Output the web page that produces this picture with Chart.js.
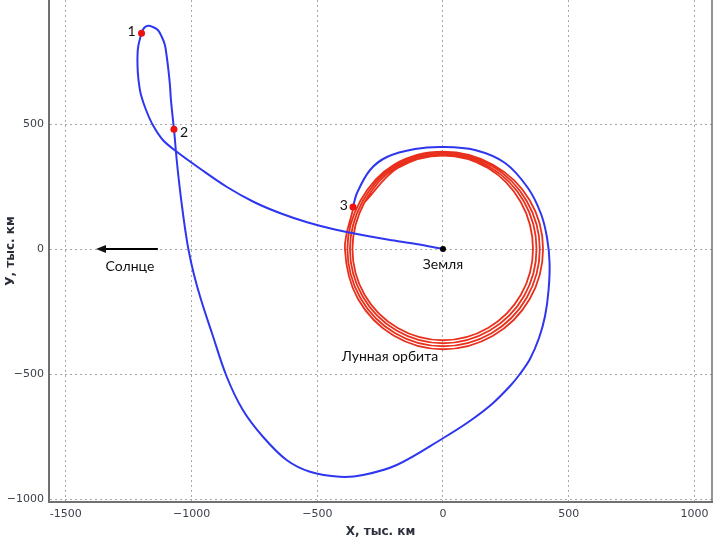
<!DOCTYPE html>
<html>
<head>
<meta charset="utf-8">
<script src="https://cdn.jsdelivr.net/npm/chart.js@4.4.1/dist/chart.umd.min.js"></script>
<style>
  body { margin: 0; background: #fff; }
  #wrap { width: 720px; height: 539px; }
</style>
</head>
<body>
<div id="wrap"><canvas id="mycanvas" width="720" height="539"></canvas></div>
<script>
// trajectory of the spacecraft, thousand km (Earth at 0,0)
var trajX = [0, -107, -215, -322, -430, -537, -644, -752, -859, -967, -1060,
  -1114, -1154, -1181, -1201, -1211, -1215, -1213, -1199, -1189, -1172, -1154, -1134, -1118,
  -1106, -1098, -1092, -1086, -1082, -1076, -1070, -1066, -1062, -1055, -1046, -1036, -1025,
  -1012, -990, -962, -919, -860, -796, -716, -622, -529, -410, -318, -184, 0,
  107, 195, 267, 306, 346, 382, 406, 420, 424, 414, 390, 338, 247, 127, 0, -111, -223, -290, -342, -358];
var trajY = [0, 20, 37, 56, 78, 106, 142, 188, 248, 322, 390,
  436, 496, 556, 616, 676, 736, 804, 863, 884, 893, 888, 876, 848,
  816, 764, 716, 656, 596, 536, 479, 436, 388, 316, 236, 156, 76,
  -4, -104, -204, -336, -511, -644, -751, -844, -891, -911, -904, -864, -757,
  -688, -620, -548, -500, -440, -356, -268, -164, -56, 44, 140, 244, 344, 396, 408, 400, 368, 316, 224, 168];

// lunar orbit, several turns
var moonX = [-356, -390, -338, -195, 0, 199, 345, 398, 345, 199, 0, -195,
  -329, -380, -329, -190, 0, 193, 333, 385, 333, 193, 0, -190,
  -320, -370, -320, -185, 0, 186, 322, 372, 322, 186, 0, -185,
  -312, -360, -312, -180, 0, 179, 310, 358, 310, 179, 0, -180, -312];
var moonY = [167, 0, -200, -347, -401, -347, -200, 0, 195, 337, 389, 337,
  192, 0, -195, -337, -389, -337, -195, 0, 192, 333, 384, 333,
  190, 0, -189, -326, -377, -326, -189, 0, 190, 328, 379, 328,
  187, 0, -183, -316, -365, -316, -183, 0, 187, 324, 374, 324, 187];

// marked points 1, 2, 3
var markX = [-1199, -1070, -358];
var markY = [863, 479, 168];
var markNames = ['1', '2', '3'];

var xTicks = [-1500, -1000, -500, 0, 500, 1000];
var xTickLabels = ['-1500', '\u22121000', '\u2212500', '0', '500', '1000'];
var yTicks = [-1000, -500, 0, 500];
var yTickLabels = ['\u22121000', '\u2212500', '0', '500'];

function toPoints(xs, ys) {
  var pts = [];
  for (var i in xs) pts.push({x: xs[i], y: ys[i]});
  return pts;
}

var textFont = '14px Lato';

var notesPlugin = {
  id: 'notes',
  afterDatasetsDraw: function(chart) {
    var ctx = chart.ctx;
    var xs = chart.scales.x, ys = chart.scales.y;
    var a = chart.chartArea;
    ctx.save();
    // right frame line
    ctx.strokeStyle = '#707070';
    ctx.lineWidth = 1.5;
    ctx.beginPath();
    ctx.moveTo(a.right, a.top);
    ctx.lineTo(a.right, a.bottom);
    ctx.stroke();

    ctx.fillStyle = '#111';
    ctx.font = textFont;
    ctx.textBaseline = 'middle';
    // point numbers
    var offs = [[-6, -2, 'right'], [6, 3, 'left'], [-5, -2, 'right']];
    for (var i in markNames) {
      ctx.textAlign = offs[i][2];
      ctx.fillText(markNames[i], xs.getPixelForValue(markX[i]) + offs[i][0],
        ys.getPixelForValue(markY[i]) + offs[i][1]);
    }
    ctx.textAlign = 'center';
    ctx.fillText('Земля', xs.getPixelForValue(0), ys.getPixelForValue(0) + 15);
    ctx.fillText('Солнце', xs.getPixelForValue(-1245), ys.getPixelForValue(-68));
    ctx.fillText('Лунная орбита', xs.getPixelForValue(-211), ys.getPixelForValue(-428));

    // arrow towards the Sun
    var x0 = xs.getPixelForValue(-1134), x1 = xs.getPixelForValue(-1380), y0 = ys.getPixelForValue(0);
    ctx.strokeStyle = '#000';
    ctx.lineWidth = 2;
    ctx.beginPath();
    ctx.moveTo(x0, y0);
    ctx.lineTo(x1 + 6, y0);
    ctx.stroke();
    ctx.beginPath();
    ctx.moveTo(x1, y0);
    ctx.lineTo(x1 + 10, y0 - 4);
    ctx.lineTo(x1 + 10, y0 + 4);
    ctx.closePath();
    ctx.fill();
    ctx.restore();
  }
};

var ctx = document.getElementById('mycanvas');

var chart = new Chart(ctx, {
  type: 'scatter',
  data: {
    datasets: [
      {
        label: 'Лунная орбита',
        data: toPoints(moonX, moonY),
        showLine: true,
        borderColor: '#e8301c',
        borderWidth: 1.8,
        pointRadius: 0,
        tension: 0.35,
        order: 3
      },
      {
        label: 'Траектория',
        data: toPoints(trajX, trajY),
        showLine: true,
        borderColor: '#2e36ee',
        borderWidth: 2,
        pointRadius: 0,
        tension: 0.35,
        order: 2
      },
      {
        label: 'Точки',
        data: toPoints(markX, markY),
        pointRadius: 3.5,
        pointBackgroundColor: '#ee1111',
        pointBorderWidth: 0,
        order: 0
      },
      {
        label: 'Земля',
        data: [{x: 0, y: 0}],
        pointRadius: 3,
        pointBackgroundColor: '#000',
        pointBorderWidth: 0,
        order: 0
      }
    ]
  },
  options: {
    responsive: false,
    animation: false,
    layout: { autoPadding: false, padding: { left: 0, right: 8, top: 0, bottom: 0 } },
    plugins: { legend: { display: false }, tooltip: { enabled: false } },
    scales: {
      x: {
        type: 'linear',
        min: -1567,
        max: 1070,
        afterBuildTicks: function(scale) {
          scale.ticks = xTicks.map(function(v) { return {value: v}; });
        },
        afterFit: function(scale) {
          scale.height = 37;
          scale.paddingLeft = 0;
          scale.paddingRight = 0;
        },
        ticks: {
          padding: 6,
          color: '#3a3f4a',
          font: { family: 'DejaVu Sans', size: 11 },
          maxRotation: 0,
          callback: function(v) { return xTickLabels[xTicks.indexOf(v)]; }
        },
        grid: { color: '#a8a8a8', drawTicks: false },
        border: { display: true, color: '#707070', width: 2, dash: [2, 3] },
        title: {
          display: true,
          text: 'Х, тыс. км',
          color: '#2a2f3a',
          font: { family: 'DejaVu Sans', size: 12, weight: 'bold' },
          padding: { top: 2, bottom: 0 }
        }
      },
      y: {
        type: 'linear',
        min: -1012,
        max: 996,
        afterBuildTicks: function(scale) {
          scale.ticks = yTicks.map(function(v) { return {value: v}; });
        },
        afterFit: function(scale) {
          scale.width = 49;
          scale.paddingTop = 0;
          scale.paddingBottom = 0;
        },
        ticks: {
          padding: 5,
          color: '#3a3f4a',
          font: { family: 'DejaVu Sans', size: 11 },
          callback: function(v) { return yTickLabels[yTicks.indexOf(v)]; }
        },
        grid: { color: '#a8a8a8', drawTicks: false },
        border: { display: true, color: '#707070', width: 2, dash: [2, 3] },
        title: {
          display: true,
          text: 'У, тыс. км',
          color: '#2a2f3a',
          font: { family: 'DejaVu Sans', size: 12, weight: 'bold' },
          padding: { top: 4, bottom: 0 }
        }
      }
    }
  },
  plugins: [notesPlugin]
});
</script>
</body>
</html>
